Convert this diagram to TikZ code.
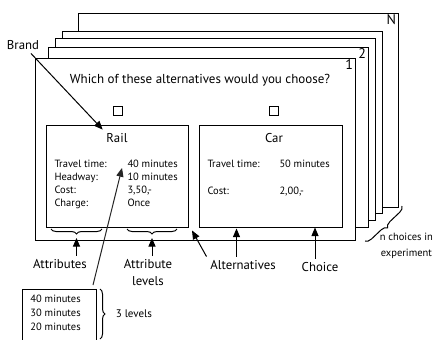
\documentclass[tikz,border=0pt]{standalone}
\usepackage{fontspec}
\setmainfont{PT Sans}
\usetikzlibrary{shapes,arrows,positioning,calc,decorations.pathreplacing}

\begin{document}
\begin{tikzpicture}[x=1pt, y=-1pt, line width=1pt]
  % Styles
  \tikzstyle{card} = [rectangle, draw, fill=white, minimum width=320pt, inner sep=0pt]
  \tikzstyle{alt} = [rectangle, draw, minimum width=142pt, minimum height=102pt, inner sep=0pt]
  \tikzstyle{tickbox} = [rectangle, draw, minimum size=9pt, inner sep=0pt]
  \tikzstyle{small} = [font=\fontsize{10.5}{12.7}\selectfont, align=left, anchor=north west, inner sep=0pt]
  \tikzstyle{note} = [font=\fontsize{12.8}{17}\selectfont, align=center]
  \tikzstyle{num} = [font=\fontsize{14}{16}\selectfont, anchor=north east, inner sep=2pt]
  \tikzstyle{arrow} = [draw, -triangle 45]
  \tikzstyle{curly} = [draw, decorate, decoration={brace, amplitude=5pt}]

  \useasboundingbox (0,0) rectangle (437,340);

  % Cards (back to front)
  \node[card, minimum height=194pt] (cardN) at (238,110) {};
  \node[card, minimum height=182pt] (card4) at (222,122) {};
  \node[card, minimum height=182pt] (card3) at (215,129) {};
  \node[card, minimum height=180pt] (card2) at (208,137) {};
  \node[card, minimum height=182pt] (card1) at (195,149) {};
  \node[num] (numN) at (cardN.north east) {N};
  \node[num] (num2) at (card2.north east) {2};
  \node[num] (num1) at (card1.north east) {1};

  % Question and alternatives
  \node[font=\fontsize{13}{15}\selectfont] (question) at (200,80) {Which of these alternatives would you choose?};
  \node[tickbox] (tickrail) at (118,111) {};
  \node[tickbox] (tickcar) at (274,111) {};
  \node[alt] (rail) at (117.5,176) {};
  \node[alt, minimum width=143pt] (car) at (270.5,176) {};
  \node[note] (railname) at (117,138) {Rail};
  \node[note] (carname) at (274,138) {Car};

  \node[small] (railattr) at (54,160) {Travel time:\\Headway:\\Cost:\\Charge:};
  \node[small] (railval) at (127,160) {40 minutes\\10 minutes\\3,50,-\\Once};
  \node[small] (carattr) at (207,160) {Travel time:\\[14pt]Cost:};
  \node[small] (carval) at (279,160) {50 minutes\\[14pt]2,00,-};

  % Braces
  \draw[curly, decoration={mirror}] (51,229) -- (102,229);
  \draw[curly, decoration={mirror}] (127,229) -- (177,229);
  \draw[curly, decoration={amplitude=6pt}] (402,206) -- (365,241);
  \coordinate (attrtip) at (76.5,238);
  \coordinate (leveltip) at (152,238);
  \coordinate (valtip) at (122,168);
  \coordinate (valfoot) at (93,285);

  % Labels
  \node[note] (brand) at (23,45) {Brand};
  \node[note] (attributes) at (60,264) {Attributes};
  \node[note] (levels) at (148,273) {Attribute\\levels};
  \node[note] (alternatives) at (243,265) {Alternatives};
  \node[note] (choice) at (320,267) {Choice};
  \node[note, font=\fontsize{10.5}{16}\selectfont, anchor=north west] (nchoices) at (376,229) {n choices in\\experiment};

  % Level example
  \node[rectangle, draw, minimum width=74pt, minimum height=56pt, anchor=north west] (levelbox) at (22,289) {};
  \node[small, font=\fontsize{10.5}{14}\selectfont] (levelvals) at (30,295) {40 minutes\\30 minutes\\20 minutes};
  \draw[curly] (100,289) -- (100,339);
  \node[note, font=\fontsize{11}{14}\selectfont, anchor=west] (threelevels) at (112,314) {3 levels};

  % Edges
  \draw[arrow, black!85] (valfoot) -- (valtip);
  \draw[arrow] (brand) -- (railname.north west);
  \draw[arrow] (attributes.north -| attrtip) -- (attrtip);
  \draw[arrow] (levels.north -| leveltip) -- (leveltip);
  \draw[arrow] (alternatives.north -| car.south) ++(-34,0) -- ++(0,-28);
  \draw[arrow] (alternatives.north west) -- ($(rail.south east)+(3,3)$);
  \draw[arrow] (choice.north -| 315,0) -- (car.south -| 315,0);

\end{tikzpicture}
\end{document}
